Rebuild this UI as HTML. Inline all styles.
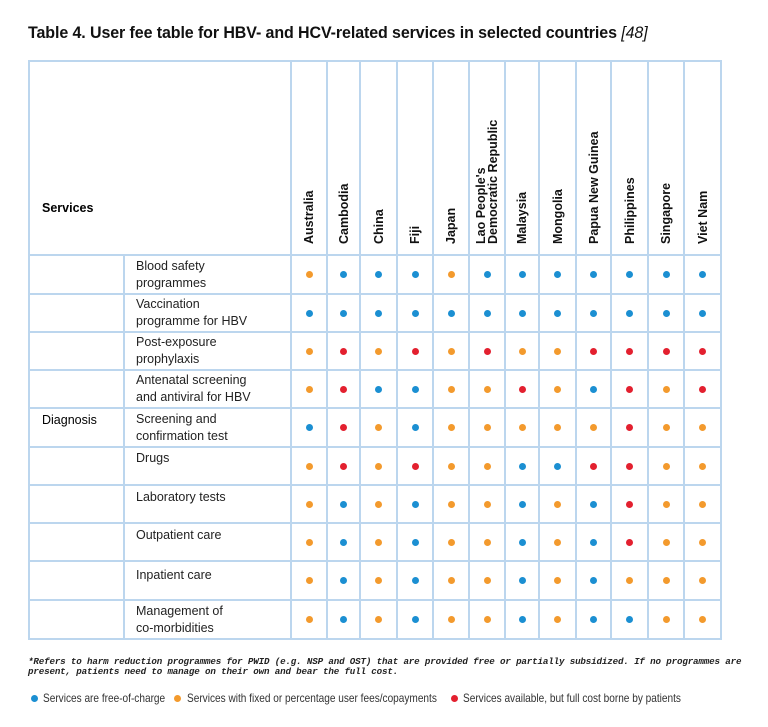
<!DOCTYPE html><html><head><style>
body{margin:0;background:#fff;width:768px;height:727px;position:relative;font-family:"Liberation Sans",sans-serif;overflow:hidden}
.t{position:absolute;left:28px;top:24px;font-size:16.5px;font-weight:bold;color:#111;letter-spacing:-0.1px;white-space:nowrap;transform:scaleX(.97);transform-origin:left}
.abs{position:absolute}
.h{position:absolute;background:#bcd6ee;height:2px}
.v{position:absolute;background:#bcd6ee;width:2px}
.c{position:absolute;font-size:12.5px;font-weight:bold;color:#111;transform:rotate(-90deg);transform-origin:left top;white-space:nowrap;line-height:12px}
.s{position:absolute;left:136px;font-size:12.5px;line-height:17px;color:#222}
.d{position:absolute;width:7px;height:7px;border-radius:50%}
.B{background:#1b8fd2}.O{background:#f39a2d}.R{background:#e3202f}
.fn{position:absolute;left:28px;top:657px;font-family:"Liberation Mono",monospace;font-style:italic;font-weight:bold;font-size:9.2px;line-height:10px;color:#222;width:740px;letter-spacing:-0.15px}
.lg{position:absolute;top:691px;font-size:12px;color:#333;transform:scaleX(.84);transform-origin:left;white-space:nowrap}
</style></head><body>
<div class="t">Table 4. User fee table for HBV- and HCV-related services in selected countries <i style="font-weight:normal">[48]</i></div>
<div id="g"></div>
<div class="abs" style="left:42px;top:201px;font-size:12.5px;font-weight:bold">Services</div>
<div class="abs" style="left:42px;top:413px;font-size:12.5px">Diagnosis</div>
<div class="s" style="top:258px">Blood safety<br>programmes</div>
<div class="s" style="top:296px">Vaccination<br>programme for HBV</div>
<div class="s" style="top:334px">Post-exposure<br>prophylaxis</div>
<div class="s" style="top:372px">Antenatal screening<br>and antiviral for HBV</div>
<div class="s" style="top:411px">Screening and<br>confirmation test</div>
<div class="s" style="top:450px">Drugs</div>
<div class="s" style="top:489px">Laboratory tests</div>
<div class="s" style="top:527px">Outpatient care</div>
<div class="s" style="top:567px">Inpatient care</div>
<div class="s" style="top:603px">Management of<br>co-morbidities</div>
<div class="fn">*Refers to harm reduction programmes for PWID (e.g. NSP and OST) that are provided free or partially subsidized. If no programmes are present, patients need to manage on their own and bear the full cost.</div>
<div class="d B" style="left:31px;top:695px"></div><div class="lg" style="left:43px">Services are free-of-charge</div>
<div class="d O" style="left:174px;top:695px"></div><div class="lg" style="left:187px">Services with fixed or percentage user fees/copayments</div>
<div class="d R" style="left:451px;top:695px"></div><div class="lg" style="left:463px">Services available, but full cost borne by patients</div>
<script>
var g=document.getElementById('g'),h='';
var xs=[290,326,359,396,432,468,504,538,575,610,647,683,720];
var ys=[254,293,331,369,407,446,484,522,560,599,638];
h+='<div class="h" style="left:28px;top:60px;width:694px"></div>';
ys.forEach(function(y,i){h+='<div class="h" style="left:28px;top:'+y+'px;width:694px"></div>';});
h+='<div class="v" style="left:28px;top:60px;height:580px"></div>';
h+='<div class="v" style="left:123px;top:254px;height:386px"></div>';
xs.forEach(function(x){h+='<div class="v" style="left:'+x+'px;top:60px;height:580px"></div>';});
var names=['Australia','Cambodia','China','Fiji','Japan',"Lao People's<br>Democratic Republic",'Malaysia','Mongolia','Papua New Guinea','Philippines','Singapore','Viet Nam'];
names.forEach(function(n,i){var cx=(xs[i]+xs[i+1])/2+1;var two=n.indexOf('<br>')>0;
h+='<div class="c" style="left:'+(cx-(two?12:6))+'px;top:244px">'+n+'</div>';});
var rows=['OBBBOBBBBBBB','BBBBBBBBBBBB','OROROROORRRR','ORBBOOROBROR','BROBOOOOOROO','OROROOBBRROO','OBOBOOBOBROO','OBOBOOBOBROO','OBOBOOBOBOOO','OBOBOOBOBBOO'];
rows.forEach(function(r,j){var cy=(ys[j]+ys[j+1])/2+1;for(var i=0;i<12;i++){var cx=(xs[i]+xs[i+1])/2+1;
h+='<div class="d '+r[i]+'" style="left:'+(cx-3.5)+'px;top:'+(cy-3.5)+'px"></div>';}});
g.innerHTML=h;
</script>
</body></html>
